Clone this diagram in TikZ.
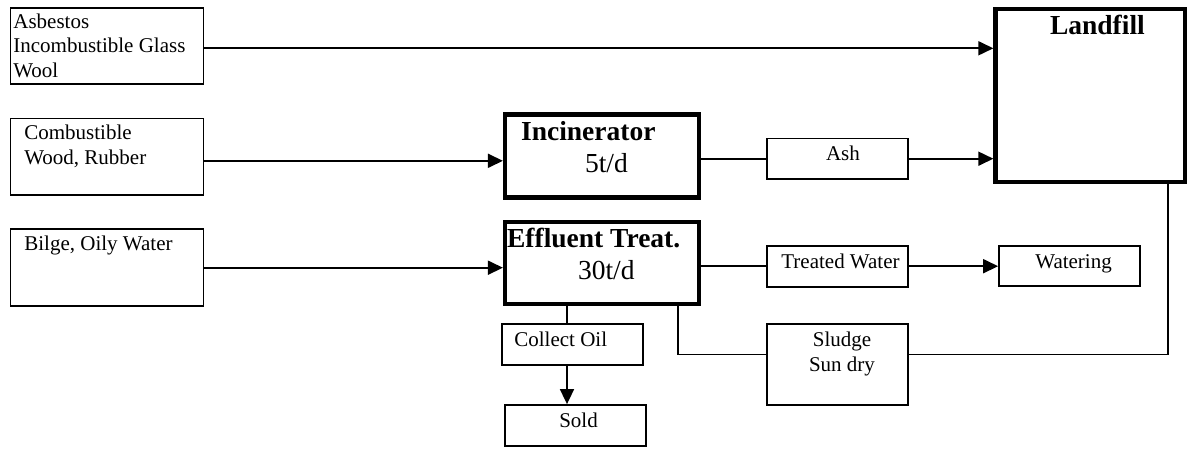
\documentclass[tikz,border=0pt]{standalone}
\usepackage{fontspec}
\setmainfont{Liberation Serif}
\usetikzlibrary{arrows.meta}

\tikzset{
  thinbox/.style={draw, line width=1.7pt, inner sep=0pt},
  thickbox/.style={draw, line width=4.2pt, inner sep=0pt},
  txt/.style={inner sep=0pt, align=left, font=\fontsize{21}{24.5}\selectfont},
  bigtxt/.style={inner sep=0pt, align=left, font=\fontsize{27.5}{32}\selectfont},
  flow/.style={line width=1.7pt},
  arr/.style={flow, -{Triangle[length=15pt,width=14pt]}}
}

\begin{document}
\begin{tikzpicture}[x=1pt, y=-1pt]
  \useasboundingbox (0,0) rectangle (1187,448);

  % Draw the boxes
  \node[thinbox, minimum width=193pt, minimum height=76pt] (asb) at (107,46.3) {};
  \node[thinbox, minimum width=193pt, minimum height=76.5pt] (comb) at (107,156.8) {};
  \node[thinbox, minimum width=193pt, minimum height=77pt] (bilge) at (107,267.7) {};
  \node[thickbox, minimum width=194pt, minimum height=83pt] (inc) at (602,156) {};
  \node[thickbox, minimum width=194pt, minimum height=82pt] (eff) at (602,263) {};
  \node[thinbox, minimum width=141.6pt, minimum height=40.7pt] (ash) at (837.5,158.7) {};
  \node[thinbox, minimum width=141.6pt, minimum height=41pt] (treated) at (837.5,266.2) {};
  \node[thinbox, minimum width=141pt, minimum height=40pt] (water) at (1069.5,266.2) {};
  \node[thickbox, minimum width=189.5pt, minimum height=173pt] (lf) at (1090.2,95.5) {};
  \node[thinbox, minimum width=141.6pt, minimum height=41pt] (oil) at (572.5,344.5) {};
  \node[thinbox, minimum width=140.7pt, minimum height=40.7pt] (sold) at (575.3,425.3) {};
  \node[thinbox, minimum width=141.6pt, minimum height=81pt] (sludge) at (837.5,364.5) {};

  % Texts inside the boxes (base = last line)
  \node[txt, anchor=base west] (asbtxt) at ([shift={(3.5,69.7)}]asb.north west)
    {Asbestos\\Incombustible Glass\\Wool};
  \node[txt, anchor=base west] (combtxt) at ([shift={(14.5,46.7)}]comb.north west)
    {Combustible\\Wood, Rubber};
  \node[txt, anchor=base west] (bilgetxt) at ([shift={(14.5,22.5)}]bilge.north west)
    {Bilge, Oily Water};
  \node[bigtxt, anchor=base west] (inctxt) at ([shift={(18,60.5)}]inc.north west)
    {\bfseries Incinerator\\\hspace*{64pt}5t/d};
  \node[bigtxt, anchor=base west] (efftxt) at ([shift={(4,60)}]eff.north west)
    {\bfseries Effluent Treat.\\\hspace*{71pt}30t/d};
  \node[txt, anchor=base west] (ashtxt) at ([shift={(60,22.7)}]ash.north west) {Ash};
  \node[txt, anchor=base west] (treatedtxt) at ([shift={(15.3,23.3)}]treated.north west)
    {Treated Water};
  \node[txt, anchor=base west] (watertxt) at ([shift={(37,23)}]water.north west) {Watering};
  \node[bigtxt, anchor=base west] (lftxt) at ([shift={(56.5,28)}]lf.north west)
    {\bfseries Landfill};
  \node[txt, anchor=base west] (oiltxt) at ([shift={(13.3,23)}]oil.north west) {Collect Oil};
  \node[txt, anchor=base west] (soldtxt) at ([shift={(55,23)}]sold.north west) {Sold};
  \node[txt, align=center, anchor=base] (sludgetxt) at ([shift={(4.5,48)}]sludge.north)
    {Sludge\\Sun dry};

  % Connectors
  \draw[arr] ([yshift=-2pt]asb.east) -- ([yshift=-2pt]asb.east -| lf.west);
  \draw[arr] ([yshift=-4pt]comb.east) -- ([yshift=-4pt]comb.east -| inc.west);
  \draw[arr] (bilge.east) -- (bilge.east -| eff.west);
  \draw[flow] (ash.west -| inc.east) -- (ash.west);
  \draw[arr] (ash.east) -- (ash.east -| lf.west);
  \draw[flow] (treated.west -| eff.east) -- (treated.west);
  \draw[arr] (treated.east) -- (water.west);
  \draw[flow] ([xshift=-35pt]eff.south) -- ([xshift=-35pt]eff.south |- oil.north);
  \draw[arr] ([xshift=-5.5pt]oil.south) -- ([xshift=-5.5pt]oil.south |- sold.north);
  \draw[flow] ([xshift=76pt]eff.south) |- ([yshift=10pt]sludge.west);
  \draw[flow] ([yshift=10pt]sludge.east) -| ([xshift=78pt]lf.south);
\end{tikzpicture}
\end{document}
